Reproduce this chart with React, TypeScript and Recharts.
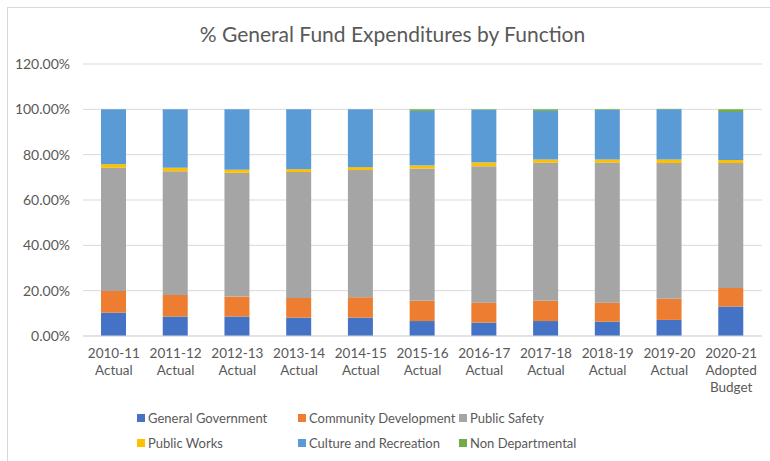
import React from 'react';
import { BarChart, Bar, XAxis, YAxis, CartesianGrid, Legend } from 'recharts';

const categories = ['2010-11', '2011-12', '2012-13', '2013-14', '2014-15', '2015-16', '2016-17', '2017-18', '2018-19', '2019-20', '2020-21'];
const categoryNotes = ['Actual', 'Actual', 'Actual', 'Actual', 'Actual', 'Actual', 'Actual', 'Actual', 'Actual', 'Actual', 'Adopted Budget'];

const generalGovernment = [10.3, 8.6, 8.6, 8.1, 8.1, 6.6, 5.9, 6.6, 6.3, 7.1, 13.0];
const communityDevelopment = [9.6, 9.5, 8.8, 8.7, 9.0, 8.9, 8.8, 8.9, 8.4, 9.3, 8.2];
const publicSafety = [54.3, 54.6, 54.6, 55.5, 56.1, 58.4, 60.2, 61.0, 61.8, 59.9, 55.1];
const publicWorks = [1.6, 1.5, 1.3, 1.3, 1.3, 1.3, 1.6, 1.4, 1.4, 1.6, 1.4];
const cultureRecreation = [24.2, 25.8, 26.7, 26.4, 25.5, 24.1, 23.3, 21.4, 21.8, 22.1, 21.1];
const nonDepartmental = [0, 0, 0, 0, 0, 0.7, 0.2, 0.7, 0.3, 0.2, 1.2];

const yTicks = [0, 20, 40, 60, 80, 100, 120];

const series = [
  { key: 'gg', name: 'General Government', color: '#4472C4', values: generalGovernment },
  { key: 'cd', name: 'Community Development', color: '#ED7D31', values: communityDevelopment },
  { key: 'ps', name: 'Public Safety', color: '#A5A5A5', values: publicSafety },
  { key: 'pw', name: 'Public Works', color: '#FFC000', values: publicWorks },
  { key: 'cr', name: 'Culture and Recreation', color: '#5B9BD5', values: cultureRecreation },
  { key: 'nd', name: 'Non Departmental', color: '#70AD47', values: nonDepartmental },
];

const data = categories.map((c, i) => {
  const row: Record<string, any> = { label: c + '\n' + categoryNotes[i] };
  series.forEach((s) => {
    row[s.key] = s.values[i];
  });
  return row;
});

const FONT = "Lato, 'Open Sans', sans-serif";
const TEXT = '#595959';

const XTick = (props: any) => {
  const { x, y, payload } = props;
  const [year, note] = String(payload.value).split('\n');
  const lines = [year, ...note.split(' ')];
  return (
    <g transform={`translate(${x},${y})`}>
      <text textAnchor="middle" fill={TEXT} fontSize={13.5} fontFamily={FONT}>
        {lines.map((l, i) => (
          <tspan key={i} x={0} dy={i === 0 ? 22 : 17}>
            {l}
          </tspan>
        ))}
      </text>
    </g>
  );
};

const legendCols = [137, 298, 459];
const LegendContent = () => (
  <div style={{ position: 'relative', width: 770, height: 50 }}>
    {series.map((s, i) => {
      const col = i % 3;
      const row = Math.floor(i / 3);
      return (
        <div
          key={s.key}
          style={{
            position: 'absolute',
            left: legendCols[col],
            top: row === 0 ? 9 : 34,
            height: 16,
            display: 'flex',
            alignItems: 'center',
            whiteSpace: 'nowrap',
            fontFamily: FONT,
            fontSize: 13,
            color: TEXT,
          }}
        >
          <span style={{ display: 'inline-block', width: 8, height: 8, background: s.color, marginRight: 3 }} />
          <span>{s.name}</span>
        </div>
      );
    })}
  </div>
);

export default function App() {
  return (
    <div style={{ position: 'absolute', left: 0, top: 0, width: 770, height: 461, background: '#fff', overflow: 'hidden' }}>
      <div
        style={{
          position: 'absolute',
          left: 7,
          top: 7,
          width: 780,
          height: 470,
          borderTop: '1px solid #d9d9d9',
          borderLeft: '1px solid #d9d9d9',
        }}
      />
      <div
        style={{
          position: 'absolute',
          left: 0,
          top: 20,
          width: 785,
          textAlign: 'center',
          fontFamily: FONT,
          fontSize: 21,
          color: TEXT,
          lineHeight: '28px',
        }}
      >
        % General Fund Expenditures by Function
      </div>
      <div style={{ position: 'absolute', left: 0, top: 0 }}>
        <BarChart width={770} height={461} data={data} margin={{ top: 64, right: 8, bottom: 10, left: 0 }}>
          <CartesianGrid vertical={false} stroke="#d9d9d9" />
          <XAxis
            dataKey="label"
            tick={<XTick />}
            tickLine={false}
            tickSize={0}
            tickMargin={0}
            axisLine={{ stroke: '#d9d9d9' }}
            height={65}
            interval={0}
          />
          <YAxis
            domain={[0, 120]}
            ticks={yTicks}
            width={83}
            tickLine={false}
            axisLine={false}
            tickSize={6}
            tickMargin={7}
            tickFormatter={(v: number) => v.toFixed(2) + '%'}
            tick={{ fill: TEXT, fontSize: 14, fontFamily: FONT }}
          />
          <Legend
            verticalAlign="bottom"
            height={50}
            content={<LegendContent />}
            wrapperStyle={{ left: 0, width: 770 }}
          />
          {series.map((s) => (
            <Bar key={s.key} dataKey={s.key} name={s.name} stackId="a" fill={s.color} barSize={25} isAnimationActive={false} />
          ))}
        </BarChart>
      </div>
    </div>
  );
}
